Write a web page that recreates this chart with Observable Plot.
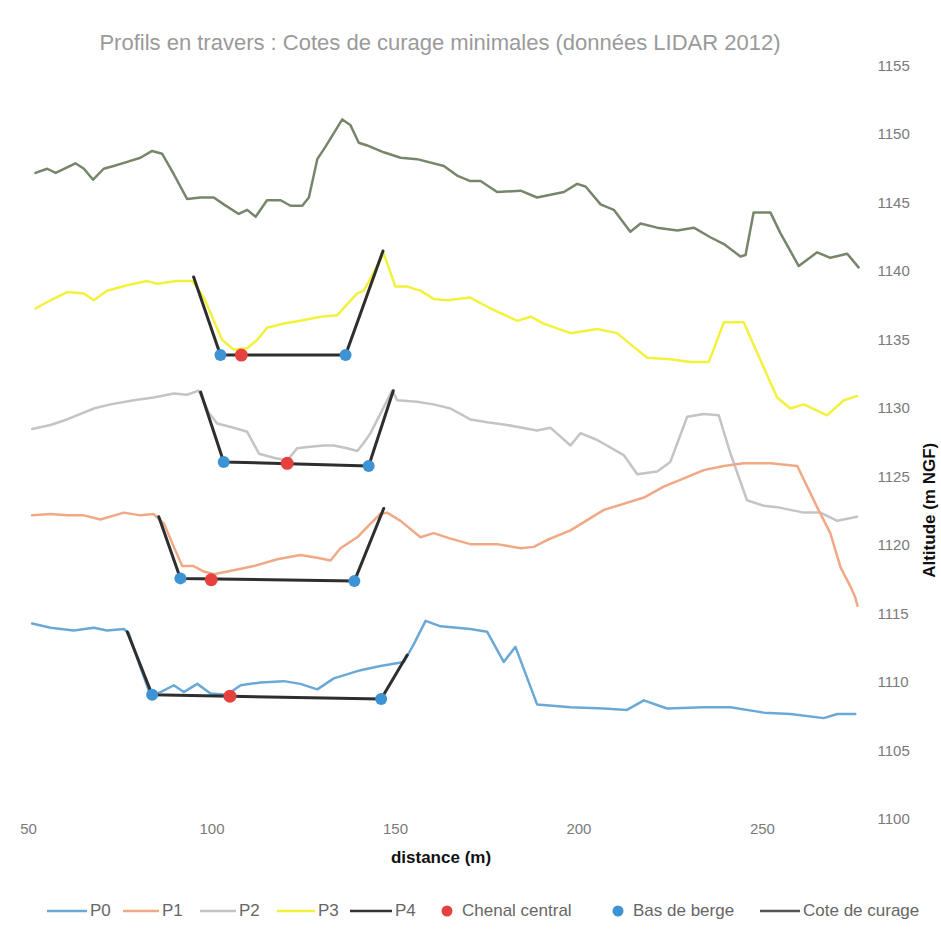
<!DOCTYPE html>
<html>
<head>
<meta charset="utf-8">
<script src="https://cdn.jsdelivr.net/npm/d3@7"></script>
<script src="https://cdn.jsdelivr.net/npm/@observablehq/plot@0.6"></script>
<style>
  html, body { margin: 0; padding: 0; background: #fff; }
  #wrap { position: relative; width: 941px; height: 943px; font-family: "Liberation Sans Narrow", "Liberation Sans", sans-serif; }
  #title { position: absolute; left: 0; width: 880px; top: 30px; text-align: center; font-size: 22px; color: #9a9a9a; }
  #chart { position: absolute; left: 0; top: 56px; }
  #legend { position: absolute; left: 0; top: 898px; width: 941px; height: 26px; font-size: 17px; color: #666; }
  #legend .it { position: absolute; top: 0; height: 26px; display: flex; align-items: center; }
  g[aria-label="y-axis tick label"] text, g[aria-label="x-axis tick label"] text { fill: #7a7a7a; }
</style>
</head>
<body>
<div id="wrap">
  <div id="title">Profils en travers : Cotes de curage minimales (données LIDAR 2012)</div>
  <div id="chart"></div>
  <div id="legend"></div>
</div>
<script>
// ---- Data (distance m, altitude m NGF) ----
const xTicks = [50, 100, 150, 200, 250];
const yTicks = [1100, 1105, 1110, 1115, 1120, 1125, 1130, 1135, 1140, 1145, 1150, 1155];

const p4 = [[51.9,1147.2],[55.1,1147.5],[57.4,1147.2],[62.8,1147.9],[65.1,1147.5],[67.6,1146.7],[70.5,1147.5],[73.2,1147.7],[76.9,1148.0],[80.5,1148.3],[83.7,1148.8],[86.4,1148.6],[89.6,1147.1],[93.2,1145.3],[96.9,1145.4],[100.5,1145.4],[103.2,1144.9],[107.3,1144.2],[109.6,1144.5],[111.9,1144.0],[115.0,1145.2],[118.7,1145.2],[121.4,1144.8],[124.6,1144.8],[126.4,1145.4],[128.7,1148.2],[130.9,1149.1],[133.2,1150.1],[135.5,1151.1],[137.7,1150.7],[140.0,1149.4],[142.3,1149.2],[146.8,1148.7],[151.4,1148.3],[155.9,1148.2],[163.2,1147.7],[166.8,1147.0],[170.4,1146.6],[173.2,1146.6],[177.7,1145.8],[184.1,1145.9],[188.6,1145.4],[195.9,1145.8],[199.5,1146.4],[201.8,1146.2],[205.9,1144.9],[209.5,1144.5],[214.0,1142.9],[216.8,1143.5],[221.3,1143.2],[226.8,1143.0],[231.3,1143.2],[235.8,1142.5],[239.5,1142.0],[244.0,1141.1],[245.4,1141.2],[247.6,1144.3],[252.2,1144.3],[254.9,1142.8],[259.9,1140.4],[264.9,1141.4],[268.5,1141.0],[273.1,1141.3],[276.2,1140.3]];

const p3 = [[51.9,1137.3],[56.0,1137.9],[60.5,1138.5],[65.1,1138.4],[67.8,1137.9],[71.4,1138.6],[76.9,1139.0],[82.3,1139.3],[85.1,1139.1],[90.5,1139.3],[94.6,1139.3],[97.8,1138.1],[100.5,1136.4],[102.8,1135.0],[105.9,1134.3],[109.6,1134.4],[112.3,1135.0],[115.0,1135.9],[119.6,1136.2],[124.1,1136.4],[129.6,1136.7],[134.1,1136.8],[136.8,1137.6],[139.6,1138.4],[141.4,1138.6],[146.8,1141.3],[150.0,1138.9],[153.2,1138.9],[156.8,1138.6],[160.4,1138.0],[164.1,1137.9],[170.4,1138.1],[175.9,1137.3],[183.2,1136.4],[186.8,1136.7],[190.4,1136.2],[197.7,1135.5],[205.0,1135.8],[210.4,1135.5],[214.0,1134.7],[218.6,1133.7],[224.9,1133.6],[230.4,1133.4],[235.4,1133.4],[239.5,1136.3],[244.9,1136.3],[249.5,1133.5],[254.0,1130.8],[257.6,1130.0],[261.3,1130.3],[267.6,1129.5],[272.2,1130.6],[275.8,1130.9]];

const p2 = [[51.0,1128.5],[56.0,1128.8],[60.5,1129.2],[67.8,1130.0],[72.3,1130.3],[78.7,1130.6],[84.1,1130.8],[89.6,1131.1],[93.2,1131.0],[96.4,1131.3],[99.1,1129.7],[101.4,1128.9],[105.9,1128.6],[109.6,1128.3],[111.4,1127.4],[112.8,1126.7],[116.8,1126.4],[120.5,1126.2],[123.2,1127.1],[126.8,1127.2],[130.5,1127.3],[133.2,1127.3],[136.8,1127.1],[139.6,1126.9],[141.4,1127.5],[143.2,1128.2],[149.1,1131.3],[150.5,1130.6],[155.9,1130.5],[160.4,1130.3],[165.0,1130.0],[170.4,1129.2],[175.0,1129.0],[180.4,1128.8],[188.6,1128.4],[192.2,1128.6],[197.7,1127.3],[200.4,1128.2],[205.0,1127.7],[212.2,1126.6],[215.9,1125.2],[221.3,1125.4],[224.9,1126.1],[229.5,1129.4],[234.0,1129.6],[238.1,1129.5],[241.3,1126.7],[245.8,1123.3],[250.4,1122.9],[254.0,1122.8],[257.6,1122.6],[261.3,1122.4],[265.8,1122.4],[270.4,1121.8],[275.8,1122.1]];

const p1 = [[51.0,1122.2],[56.0,1122.3],[60.5,1122.2],[65.1,1122.2],[69.6,1121.9],[76.0,1122.4],[80.5,1122.2],[84.1,1122.3],[86.9,1121.6],[89.6,1119.9],[91.9,1118.5],[95.0,1118.5],[97.8,1118.1],[100.5,1117.9],[105.9,1118.2],[111.4,1118.5],[117.8,1119.0],[124.1,1119.3],[128.7,1119.1],[132.3,1118.9],[135.0,1119.8],[139.6,1120.6],[143.2,1121.6],[145.9,1122.3],[147.7,1122.4],[151.4,1121.8],[156.8,1120.6],[160.4,1120.9],[165.0,1120.5],[170.4,1120.1],[177.7,1120.1],[184.1,1119.8],[187.7,1119.9],[191.3,1120.4],[197.7,1121.1],[206.8,1122.6],[217.7,1123.5],[223.1,1124.3],[228.6,1124.9],[234.0,1125.5],[239.5,1125.8],[244.9,1126.0],[252.2,1126.0],[259.5,1125.8],[264.9,1122.8],[268.5,1120.9],[271.3,1118.4],[274.0,1117.0],[275.3,1116.2],[275.9,1115.6]];

const p0 = [[51.0,1114.3],[56.0,1114.0],[62.3,1113.8],[67.8,1114.0],[71.4,1113.8],[76.0,1113.9],[77.3,1113.6],[80.5,1111.1],[83.2,1109.1],[86.0,1109.3],[89.6,1109.8],[92.3,1109.3],[96.0,1109.9],[99.6,1109.2],[104.1,1109.1],[107.8,1109.8],[113.2,1110.0],[119.6,1110.1],[124.1,1109.9],[128.7,1109.5],[133.2,1110.3],[140.5,1110.9],[145.9,1111.2],[152.3,1111.5],[155.0,1112.8],[158.2,1114.5],[162.3,1114.1],[170.4,1113.9],[175.0,1113.7],[179.5,1111.5],[182.7,1112.6],[188.6,1108.4],[197.7,1108.2],[206.8,1108.1],[213.1,1108.0],[217.7,1108.7],[224.0,1108.1],[234.0,1108.2],[241.3,1108.2],[250.4,1107.8],[257.6,1107.7],[266.7,1107.4],[270.4,1107.7],[275.3,1107.7]];

// Cote de curage: top left, bank foot left, bank foot right, top right
const coteP3 = [[95.0,1139.6],[102.3,1133.9],[136.4,1133.9],[146.6,1141.5]];
const coteP2 = [[96.9,1131.2],[103.2,1126.1],[142.7,1125.8],[149.4,1131.3]];
const coteP1 = [[85.5,1122.1],[91.4,1117.6],[138.8,1117.4],[146.8,1122.7]];
const coteP0 = [[76.9,1113.7],[83.7,1109.1],[146.1,1108.8],[153.2,1112.0]];

const chenal = [[108.0,1133.9],[120.5,1126.0],[99.8,1117.5],[104.9,1109.0]];
const basBerge = [[102.3,1133.9],[136.4,1133.9],[103.2,1126.1],[142.7,1125.8],[91.4,1117.6],[138.8,1117.4],[83.7,1109.1],[146.1,1108.8]];

const seriesNames = ["P0", "P1", "P2", "P3", "P4"];
const seriesColors = ["#6aa9d6", "#f1a985", "#c4c4c4", "#f2f23c", "#76866a"];
const legendExtra = ["Chenal central", "Bas de berge", "Cote de curage"];

// ---- Build ----
const series = [p0, p1, p2, p3, p4];
const lineMarks = series.slice().reverse().map((d, i) => {
  const idx = series.length - 1 - i;
  return Plot.line(d, {x: d => d[0], y: d => d[1], stroke: seriesColors[idx], strokeWidth: 2.5, curve: "linear"});
});
const cotes = [coteP3, coteP2, coteP1, coteP0].map(d =>
  Plot.line(d, {x: d => d[0], y: d => d[1], stroke: "#2e2e2e", strokeWidth: 3}));

const chart = Plot.plot({
  width: 941,
  height: 830,
  marginLeft: 28,
  marginRight: 80,
  marginTop: 9.5,
  marginBottom: 67,
  style: {fontFamily: "'Liberation Sans Narrow', 'Liberation Sans', sans-serif", fontSize: "15px", background: "white"},
  x: {domain: [50, 277], ticks: xTicks, tickSize: 0, tickPadding: 4, label: null, tickFormat: d => String(d)},
  y: {domain: [1100, 1155], ticks: yTicks, axis: "right", tickSize: 0, tickPadding: 16, label: null, tickFormat: d => String(d)},
  marks: [
    ...lineMarks,
    ...cotes,
    Plot.dot(basBerge, {x: d => d[0], y: d => d[1], r: 6, fill: "#3d93d3", stroke: "none"}),
    Plot.dot(chenal, {x: d => d[0], y: d => d[1], r: 6.5, fill: "#e5413f", stroke: "none"}),
    Plot.text(["distance (m)"], {frameAnchor: "bottom", dy: 43, dx: -4, fontWeight: "bold", fontSize: 17, fill: "#111"}),
    Plot.text(["Altitude (m NGF)"], {frameAnchor: "right", dx: 68, dy: 0, rotate: -90, fontWeight: "bold", fontSize: 17, fill: "#111"})
  ]
});
document.getElementById("chart").appendChild(chart);

// ---- Legend ----
const legend = document.getElementById("legend");
const legendItems = [
  {type: "line", color: seriesColors[0], label: seriesNames[0], x: 47, w: 40},
  {type: "line", color: seriesColors[1], label: seriesNames[1], x: 123, w: 36},
  {type: "line", color: seriesColors[2], label: seriesNames[2], x: 200, w: 36},
  {type: "line", color: seriesColors[3], label: seriesNames[3], x: 277, w: 38},
  {type: "line", color: "#333", label: seriesNames[4], x: 350, w: 42},
  {type: "dot", color: "#e5413f", label: legendExtra[0], x: 441, w: 12},
  {type: "dot", color: "#3d93d3", label: legendExtra[1], x: 612, w: 12},
  {type: "line", color: "#555", label: legendExtra[2], x: 760, w: 40}
];
legendItems.forEach(it => {
  const div = document.createElement("div");
  div.className = "it";
  div.style.left = it.x + "px";
  const svgNS = "http://www.w3.org/2000/svg";
  const s = document.createElementNS(svgNS, "svg");
  s.setAttribute("width", it.w);
  s.setAttribute("height", 14);
  if (it.type === "line") {
    const l = document.createElementNS(svgNS, "line");
    l.setAttribute("x1", 0); l.setAttribute("x2", it.w);
    l.setAttribute("y1", 7); l.setAttribute("y2", 7);
    l.setAttribute("stroke", it.color); l.setAttribute("stroke-width", 2.5);
    s.appendChild(l);
  } else {
    const c = document.createElementNS(svgNS, "circle");
    c.setAttribute("cx", 6); c.setAttribute("cy", 7); c.setAttribute("r", 5.5);
    c.setAttribute("fill", it.color);
    s.appendChild(c);
  }
  div.appendChild(s);
  const t = document.createElement("span");
  t.textContent = it.label;
  t.style.marginLeft = (it.type === "line" ? 3 : 9) + "px";
  div.appendChild(t);
  legend.appendChild(div);
});
</script>
</body>
</html>
